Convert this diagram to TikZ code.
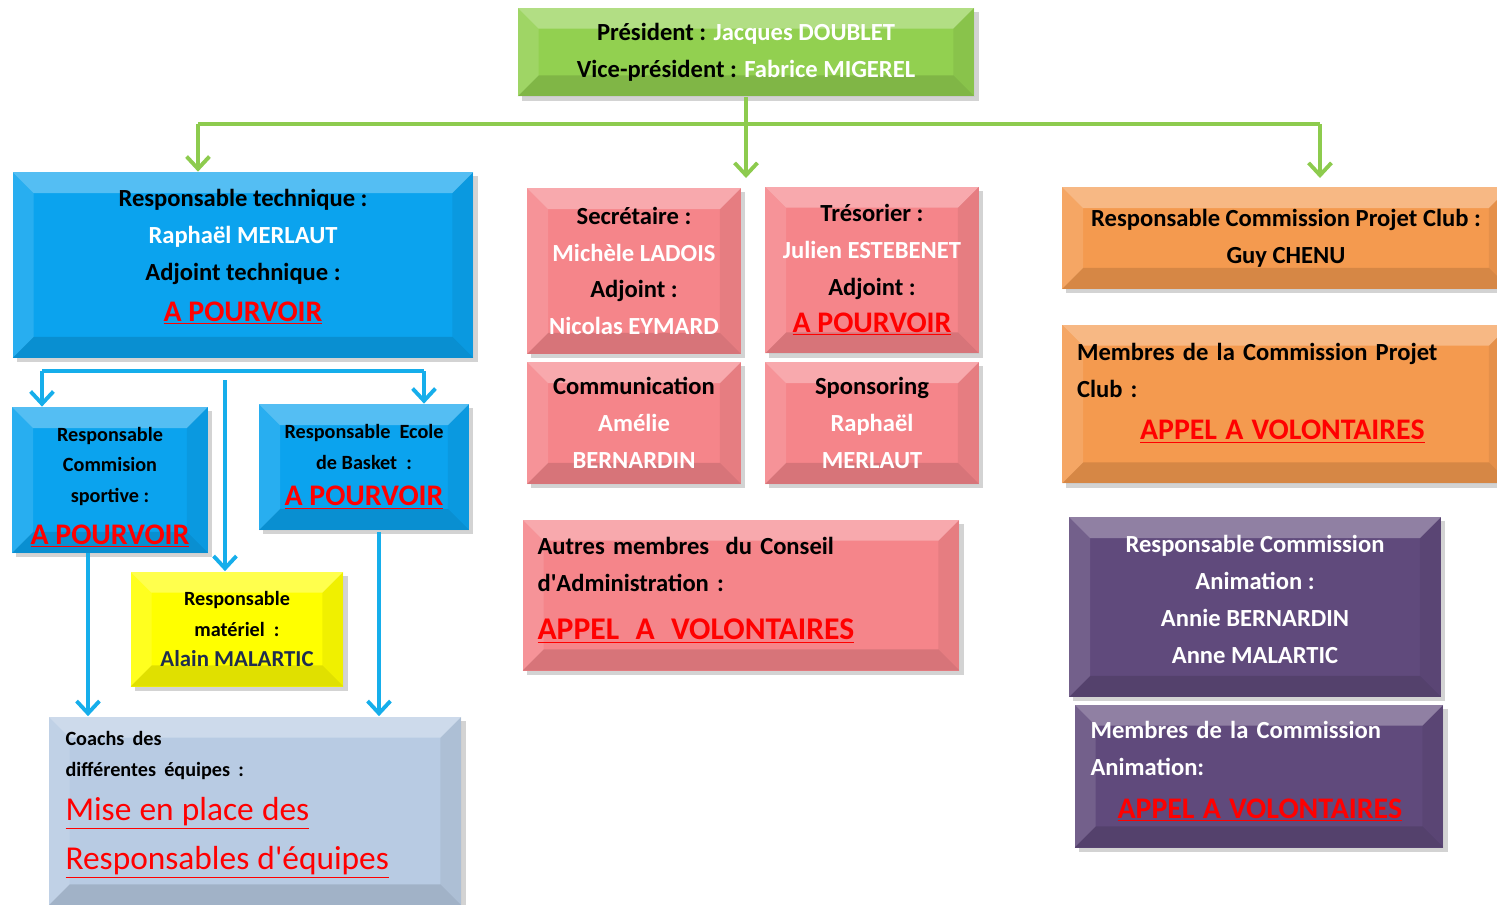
\documentclass[tikz,border=0pt]{standalone}
\usepackage{fontspec}
\setmainfont{Carlito}
\usetikzlibrary{arrows.meta, shadows}

\definecolor{presgreen}{HTML}{92D050}
\definecolor{linkgreen}{HTML}{8DCB4E}
\definecolor{techblue}{HTML}{0BA3EE}
\definecolor{linkblue}{HTML}{16AEEB}
\definecolor{bureaupink}{HTML}{F5858A}
\definecolor{projorange}{HTML}{F49A4F}
\definecolor{animpurple}{HTML}{604A7C}
\definecolor{matyellow}{HTML}{FFFF00}
\definecolor{coachgrey}{HTML}{B8CBE3}
\definecolor{navytext}{HTML}{1F2D4F}

\newcommand{\boxfont}{\fontsize{14}{21}\selectfont\bfseries}
\newcommand{\smallboxfont}{\fontsize{11.5}{17.5}\selectfont\bfseries}
\newcommand{\who}[1]{\textcolor{white}{#1}}
\newcommand{\vacant}[2][17]{{\fontsize{#1}{#1}\selectfont\color{red}\underline{#2}}}
% invisible struts to nudge the text block inside a box
\newcommand{\deep}[1]{\rule[-#1]{0pt}{1pt}}
\newcommand{\tall}[1]{\rule{0pt}{#1}}

\tikzset{
	box/.style={rectangle, inner sep=3pt, align=center, font=\boxfont,
		drop shadow={opacity=.35, shadow xshift=2.5pt, shadow yshift=-2.5pt},
		path picture={
			\fill[white, opacity=.3] (path picture bounding box.north west) -- (path picture bounding box.north east) -- ([shift={(-12pt,-12pt)}]path picture bounding box.north east) -- ([shift={(12pt,-12pt)}]path picture bounding box.north west) -- cycle;
			\fill[white, opacity=.12] (path picture bounding box.north west) -- ([shift={(12pt,-12pt)}]path picture bounding box.north west) -- ([shift={(12pt,12pt)}]path picture bounding box.south west) -- (path picture bounding box.south west) -- cycle;
			\fill[black, opacity=.06] (path picture bounding box.north east) -- ([shift={(-12pt,-12pt)}]path picture bounding box.north east) -- ([shift={(-12pt,12pt)}]path picture bounding box.south east) -- (path picture bounding box.south east) -- cycle;
			\fill[black, opacity=.12] (path picture bounding box.south west) -- (path picture bounding box.south east) -- ([shift={(-12pt,12pt)}]path picture bounding box.south east) -- ([shift={(12pt,12pt)}]path picture bounding box.south west) -- cycle;
		}},
	presbox/.style={box, fill=presgreen},
	techbox/.style={box, fill=techblue},
	bureaubox/.style={box, fill=bureaupink},
	projbox/.style={box, fill=projorange},
	animbox/.style={box, fill=animpurple},
	matbox/.style={box, fill=matyellow, font=\smallboxfont},
	coachbox/.style={box, fill=coachgrey},
}

\begin{document}
\begin{tikzpicture}[x=0.02cm, y=-0.02cm]
	\useasboundingbox (0,0) rectangle (1497,904);
	
	\node (pres) [presbox, minimum width=9.14cm, minimum height=1.78cm] at (746,52) {Président : \who{Jacques DOUBLET}\\Vice-président : \who{Fabrice MIGEREL}};
	
	% technical side
	\node (tech) [techbox, minimum width=9.22cm, minimum height=3.72cm] at (243,265) {Responsable technique :\\\who{Raphaël MERLAUT}\\Adjoint technique :\\[2pt]\vacant{A POURVOIR}\deep{11pt}};
	
	\node (sport) [techbox, font=\smallboxfont, minimum width=3.92cm, minimum height=2.8cm] at (110,480) {\tall{16.5pt}Responsable\\Commision\\sportive :\\[6pt]\vacant{A POURVOIR}};
	
	\node (ecole) [techbox, font=\smallboxfont, minimum width=4.2cm, minimum height=2.52cm] at (364,467) {Responsable~~Ecole\\de Basket~~:\\[3pt]\vacant{A POURVOIR}};
	
	\node (mat) [matbox, minimum width=4.26cm, minimum height=2.3cm] at (237,629) {Responsable\\matériel~~:\\{\fontsize{13}{17}\selectfont\color{navytext}Alain MALARTIC}};
	
	\node (coach) [coachbox, align=left, inner xsep=0.34cm, text width=7.58cm, minimum height=3.78cm] at (255,811) {{\smallboxfont Coachs~des\\différentes équipes :\par}{\fontsize{19}{25}\selectfont\mdseries\color{red}\underline{Mise en place des}\\[3pt]\underline{Responsables d\textquotesingle équipes}\deep{12pt}\par}};
	
	% bureau
	\node (sec) [bureaubox, minimum width=4.28cm, minimum height=3.32cm] at (634,271) {Secrétaire :\\\who{Michèle LADOIS}\\Adjoint :\\\who{Nicolas EYMARD}};
	
	\node (treso) [bureaubox, minimum width=4.28cm, minimum height=3.34cm] at (872,270) {Trésorier :\\\who{Julien ESTEBENET}\\Adjoint :\\\vacant{A POURVOIR}};
	
	\node (comm) [bureaubox, minimum width=4.28cm, minimum height=2.44cm] at (634,423) {Communication\\\who{Amélie}\\\who{BERNARDIN}};
	
	\node (spons) [bureaubox, minimum width=4.28cm, minimum height=2.44cm] at (872,423) {Sponsoring\\\who{Raphaël}\\\who{MERLAUT}};
	
	\node (autres) [bureaubox, align=left, inner xsep=0.3cm, text width=8.14cm, minimum height=3.02cm] at (741,595) {Autres membres~ du Conseil\\d\textquotesingle Administration :\par\vspace{6.5pt}\vacant[18]{APPEL~~A~~VOLONTAIRES}\deep{7.5pt}};
	
	% commissions
	\node (projet) [projbox, minimum width=8.96cm, minimum height=2.04cm] at (1286,238) {Responsable Commission Projet Club :\\Guy CHENU};
	
	\node (projmb) [projbox, align=left, inner xsep=0.3cm, text width=8.36cm, minimum height=3.18cm] at (1286,404) {Membres de la Commission Projet\\Club :\par\vspace{3pt}\hspace*{1.26cm}\vacant{APPEL A VOLONTAIRES}\deep{14pt}};
	
	\node (anim) [animbox, minimum width=7.44cm, minimum height=3.6cm] at (1255,607) {\who{Responsable Commission}\\\who{Animation :}\\\who{Annie BERNARDIN}\\\who{Anne MALARTIC}\deep{9pt}};
	
	\node (animmb) [animbox, align=left, inner xsep=0.32cm, text width=6.74cm, minimum height=2.86cm] at (1259,776) {\who{Membres de la Commission}\\\who{Animation:}\par\vspace{3pt}\hspace*{0.54cm}\vacant{APPEL A VOLONTAIRES}\deep{7pt}};
	
	\coordinate (gl) at (198,124);
	\coordinate (gr) at (1320,124);
	\coordinate (gm) at (pres.south |- gl);
	\coordinate (bl) at (42,371);
	\coordinate (br) at (424,371);
	\coordinate (bm) at (225,380);
	\coordinate (sl) at (88,553);
	\coordinate (el) at (379,532);
	
	\begin{scope}[line width=2.2pt, linkgreen, ->, >={Straight Barb[length=7pt, width=13pt]}]
		\draw[-] (gl) -- (gr);
		\draw[-] (pres.south) -- (gm);
		\draw (gl) -- (tech.north -| gl);
		\draw (gm) -- ++(0,54);
		\draw (gr) -- ++(0,54);
	\end{scope}
	
	\begin{scope}[line width=2.2pt, linkblue, ->, >={Straight Barb[length=7pt, width=13pt]}]
		\draw[-] (bl) -- (br);
		\draw (bl) -- (bl |- sport.north);
		\draw (br) -- (br |- ecole.north);
		\draw (bm) -- (bm |- mat.north);
		\draw (sl) -- (sl |- coach.north);
		\draw (el) -- (el |- coach.north);
	\end{scope}
\end{tikzpicture}
\end{document}
